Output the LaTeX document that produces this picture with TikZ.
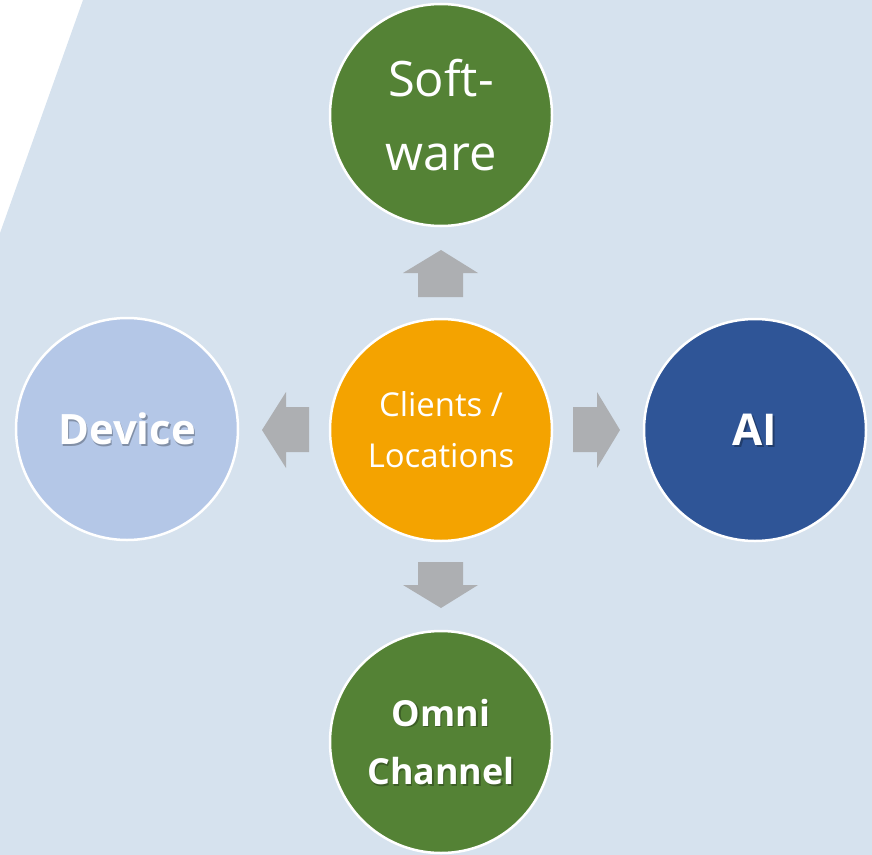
\documentclass[tikz,border=0pt]{standalone}
\usepackage{fontspec}
\setmainfont{Open Sans}
\definecolor{bgblue}{HTML}{D6E2EE}
\definecolor{leafgreen}{HTML}{548235}
\definecolor{amber}{HTML}{F4A300}
\definecolor{paleblue}{HTML}{B4C7E7}
\definecolor{navy}{HTML}{2F5597}
\definecolor{arrowgray}{HTML}{ADAFB2}
\tikzset{
  bubble/.style={circle, draw=white, line width=2.5bp, minimum size=222bp, inner sep=0pt, text=white, align=center},
  shadowtxt/.style={text=black, opacity=0.28, align=center, inner sep=0pt},
  fattxt/.style={text=white, align=center, inner sep=0pt},
  blockarrow/.style={fill=arrowgray, draw=none}
}
\begin{document}
\begin{tikzpicture}[x=1bp,y=-1bp]
\useasboundingbox (0,0) rectangle (872,855);
\fill[bgblue] (83,0) -- (872,0) -- (872,855) -- (0,855) -- (0,233) -- cycle;

% circles
\node[bubble, fill=leafgreen, font=\fontsize{49}{75}\selectfont] (soft) at (441,115) {Soft-\\ware};
\node[bubble, fill=amber, font=\fontsize{33}{51}\selectfont] (hub) at (441,430) {Clients /\\Locations};
\node[bubble, fill=paleblue] (device) at (127,429) {};
\node[bubble, fill=navy] (ai) at (755,430) {};
\node[bubble, fill=leafgreen] (omni) at (441,742) {};

% bold labels with soft shadow
\node[shadowtxt, font=\fontsize{42}{54}\selectfont\bfseries] (deviceS) at ([shift={(1.6,1.8)}]device.center) {Device};
\node[fattxt, font=\fontsize{42}{54}\selectfont\bfseries] (deviceT) at (device.center) {Device};
\node[shadowtxt, font=\fontsize{44}{54}\selectfont\bfseries] (aiS) at ([shift={(1.6,1.8)}]ai.center) {AI};
\node[fattxt, font=\fontsize{44}{54}\selectfont\bfseries] (aiT) at (ai.center) {AI};
\node[shadowtxt, font=\fontsize{36}{59}\selectfont\bfseries] (omniS) at ([shift={(1.5,1.6)}]omni.center) {Omni\\Channel};
\node[fattxt, font=\fontsize{36}{59}\selectfont\bfseries] (omniT) at (omni.center) {Omni\\Channel};

% block arrows
\fill[blockarrow] (441,250) -- (478,273) -- (463,273) -- (463,297) -- (418,297) -- (418,273) -- (403,273) -- cycle;
\fill[blockarrow] (418,562) -- (463,562) -- (463,585) -- (478,585) -- (441,608) -- (403,585) -- (418,585) -- cycle;
\fill[blockarrow] (262,430) -- (286,392) -- (286,407) -- (309,407) -- (309,452) -- (286,452) -- (286,468) -- cycle;
\fill[blockarrow] (573,407) -- (597,407) -- (597,392) -- (620,430) -- (597,468) -- (597,452) -- (573,452) -- cycle;
\end{tikzpicture}
\end{document}
